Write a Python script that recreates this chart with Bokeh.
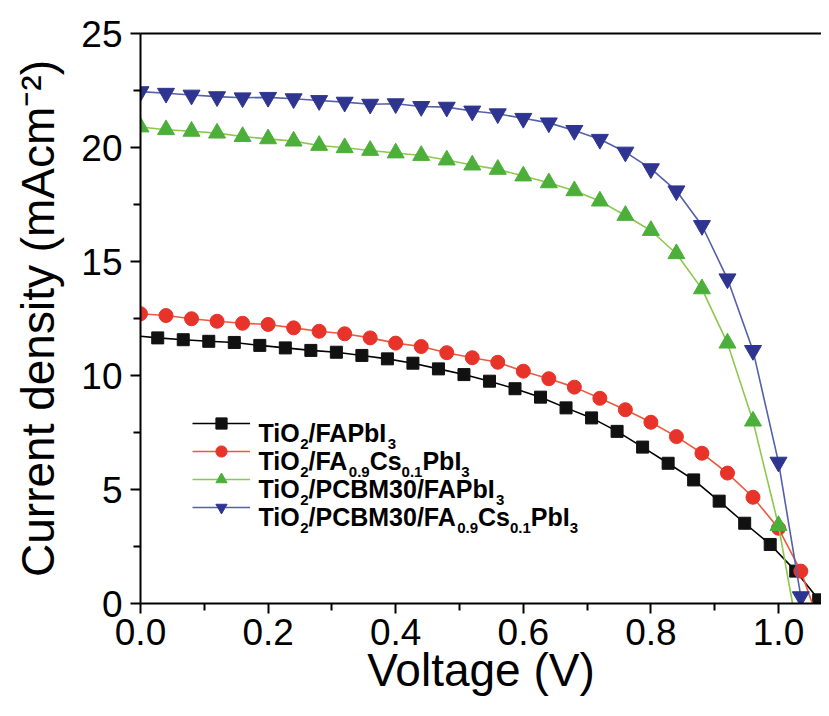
from bokeh.plotting import figure
from bokeh.models import Range1d, LinearAxis, Legend, LegendItem, Label, FixedTicker
from bokeh.embed import file_html
from bokeh.resources import INLINE

# ---------------- data ----------------
black_v = [0.027, 0.067, 0.107, 0.147, 0.187, 0.227, 0.267, 0.307, 0.347, 0.387,
           0.427, 0.467, 0.507, 0.547, 0.587, 0.627, 0.667, 0.707, 0.747, 0.787,
           0.827, 0.867, 0.907, 0.947, 0.987, 1.027, 1.063]
black_j = [11.65, 11.57, 11.50, 11.45, 11.32, 11.21, 11.10, 11.02, 10.88, 10.73,
           10.54, 10.29, 10.04, 9.75, 9.42, 9.05, 8.58, 8.14, 7.55, 6.86,
           6.15, 5.42, 4.49, 3.52, 2.59, 1.42, 0.16]

red_v = [0.0, 0.04, 0.08, 0.12, 0.16, 0.20, 0.24, 0.28, 0.32, 0.36,
         0.40, 0.44, 0.48, 0.52, 0.56, 0.60, 0.64, 0.68, 0.72, 0.76,
         0.80, 0.84, 0.88, 0.92, 0.96, 1.00, 1.035]
red_j = [12.71, 12.63, 12.49, 12.38, 12.29, 12.24, 12.09, 11.94, 11.83, 11.65,
         11.42, 11.27, 11.00, 10.78, 10.58, 10.19, 9.86, 9.49, 9.00, 8.50,
         7.95, 7.32, 6.59, 5.72, 4.66, 3.30, 1.42]

green_v = [0.0, 0.04, 0.08, 0.12, 0.16, 0.20, 0.24, 0.28, 0.32, 0.36,
           0.40, 0.44, 0.48, 0.52, 0.56, 0.60, 0.64, 0.68, 0.72, 0.76,
           0.80, 0.84, 0.88, 0.92, 0.96, 1.00]
green_j = [20.90, 20.78, 20.71, 20.63, 20.48, 20.38, 20.28, 20.09, 19.99, 19.87,
           19.76, 19.65, 19.45, 19.23, 19.04, 18.75, 18.45, 18.10, 17.65, 17.02,
           16.36, 15.34, 13.80, 11.42, 8.00, 3.42]

blue_v = [0.0, 0.04, 0.08, 0.12, 0.16, 0.20, 0.24, 0.28, 0.32, 0.36,
          0.40, 0.44, 0.48, 0.52, 0.56, 0.60, 0.64, 0.68, 0.72, 0.76,
          0.80, 0.84, 0.88, 0.92, 0.96, 1.00, 1.035]
blue_j = [22.45, 22.38, 22.30, 22.23, 22.18, 22.20, 22.14, 22.06, 21.99, 21.90,
          21.92, 21.80, 21.77, 21.60, 21.48, 21.28, 21.08, 20.75, 20.36, 19.80,
          19.07, 18.10, 16.58, 14.24, 11.10, 6.20, 0.30]

# short-circuit start (V=0) and open-circuit end (J=0) of the fitted lines
black_jsc = 11.72
voc = {"black": 1.068, "red": 1.053, "green": 1.022, "blue": 1.038}

x_ticks = [0.0, 0.2, 0.4, 0.6, 0.8, 1.0]
x_minor = [0.1, 0.3, 0.5, 0.7, 0.9]
y_ticks = [0, 5, 10, 15, 20, 25]
y_minor = [2.5, 7.5, 12.5, 17.5, 22.5]

x_title = "Voltage (V)"
y_title = "Current density (mAcm\u207b\u00b2)"

legend_rows = [
    [("TiO", 0), ("2", 1), ("/FAPbI", 0), ("3", 1)],
    [("TiO", 0), ("2", 1), ("/FA", 0), ("0.9", 1), ("Cs", 0), ("0.1", 1), ("PbI", 0), ("3", 1)],
    [("TiO", 0), ("2", 1), ("/PCBM30/FAPbI", 0), ("3", 1)],
    [("TiO", 0), ("2", 1), ("/PCBM30/FA", 0), ("0.9", 1), ("Cs", 0), ("0.1", 1), ("PbI", 0), ("3", 1)],
]

# ---------------- styling ----------------
FONT = "Liberation Sans"
W, H = 821, 700
LEFT, TOP, BOTTOM = 140, 33, 97
PX_PER_V = 638.0
X_END = (W - LEFT) / PX_PER_V

p = figure(width=W, height=H, x_range=Range1d(0, X_END), y_range=Range1d(0, 25),
           output_backend="svg", toolbar_location=None,
           min_border_left=LEFT, min_border_right=0, min_border_top=TOP,
           min_border_bottom=BOTTOM)
p.outline_line_color = None
p.grid.visible = False
p.background_fill_color = "white"
p.border_fill_color = "white"

for ax in (p.xaxis[0], p.yaxis[0]):
    ax.axis_line_width = 2
    ax.axis_line_color = "black"
    ax.major_tick_line_width = 2
    ax.minor_tick_line_width = 2
    ax.major_tick_in = 0
    ax.minor_tick_in = 0
    ax.major_tick_out = 10
    ax.minor_tick_out = 7
    ax.major_label_text_font = FONT
    ax.major_label_text_font_size = "37px"
    ax.major_label_text_color = "black"
    ax.axis_label_text_font = FONT
    ax.axis_label_text_font_size = "46px"
    ax.axis_label_text_font_style = "normal"
    ax.axis_label_text_color = "black"

p.xaxis.ticker = FixedTicker(ticks=x_ticks, minor_ticks=x_minor)
p.yaxis.ticker = FixedTicker(ticks=y_ticks, minor_ticks=y_minor)
p.xaxis.major_label_overrides = {t: f"{t:.1f}" for t in x_ticks}
p.xaxis.axis_label = x_title
p.yaxis.axis_label = y_title
p.xaxis.major_label_standoff = 5
p.yaxis.major_label_standoff = 8
p.xaxis.axis_label_standoff = -4
p.xaxis.axis_label_text_line_height = 0.8
p.xaxis.major_label_text_line_height = 0.8
p.yaxis.axis_label_standoff = 14

top_axis = LinearAxis(axis_line_width=2, axis_line_color="black",
                      major_tick_line_color=None, minor_tick_line_color=None,
                      major_label_text_font_size="0px")
top_axis.major_label_text_color = None
p.add_layout(top_axis, "above")

series = [
    ("black", [0.0] + black_v + [voc["black"]], [black_jsc] + black_j + [0.0], black_v, black_j,
     "#000000", "square", "#111111", 12),
    ("red", red_v + [voc["red"]], red_j + [0.0], red_v, red_j,
     "#ec5a3e", "circle", "#e8332a", 14),
    ("green", green_v + [voc["green"]], green_j + [0.0], green_v, green_j,
     "#8cc84b", "triangle", "#4caf3a", 17),
    ("blue", blue_v + [voc["blue"]], blue_j + [0.0], blue_v, blue_j,
     "#5560aa", "inverted_triangle", "#2e3590", 17),
]

items = []
for name, lv, lj, mv, mj, lc, mk, mc, ms in series:
    r1 = p.line(lv, lj, line_color=lc, line_width=1.6)
    r2 = p.scatter(mv, mj, marker=mk, size=ms, fill_color=mc, line_color=mc, line_width=1)
    items.append(LegendItem(label=" ", renderers=[r1, r2]))

legend = Legend(items=items, location=(52, 82), glyph_width=58, glyph_height=28,
                spacing=0, padding=0, margin=0, label_standoff=0,
                label_text_font_size="8px", border_line_color=None,
                background_fill_alpha=0)
p.add_layout(legend)

# legend text with subscripts (Arial-bold advance widths, per 1000 em)
ADV = {"T": 611, "i": 278, "O": 778, "/": 278, "F": 611, "A": 722, "P": 667, "b": 611,
       "I": 278, "C": 722, "s": 556, "B": 722, "M": 833, ".": 278}
for d in "0123456789":
    ADV[d] = 556
MAIN, SUB = 25, 15
text_x0 = 118
row_base0 = 170.5
row_step = 28
for i, row in enumerate(legend_rows):
    xo = text_x0
    base = row_base0 - i * row_step
    for txt, is_sub in row:
        fs = SUB if is_sub else MAIN
        yb = base - 11 if is_sub else base
        p.add_layout(Label(x=xo, y=yb, x_units="screen", y_units="screen", text=txt,
                           text_font=FONT, text_font_style="bold",
                           text_font_size=f"{fs}px", text_color="black",
                           text_align="left", text_baseline="alphabetic"))
        xo += sum(ADV[c] for c in txt) * fs / 1000.0

open("out.html", "w").write(file_html(p, INLINE))
